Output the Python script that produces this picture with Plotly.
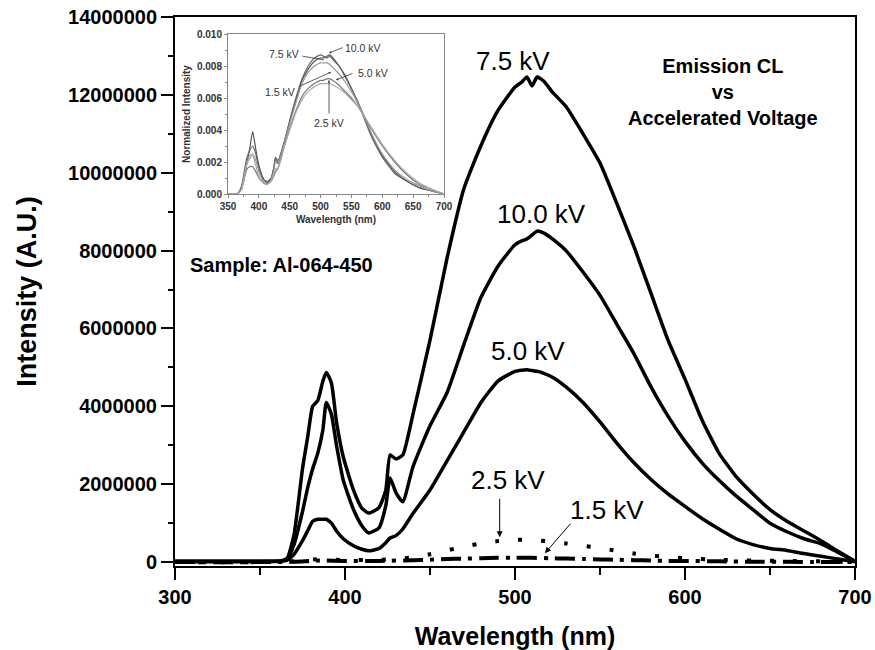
import plotly.graph_objects as go

# ---------------- main data (intensity, A.U.) ----------------
wl = [300, 350, 362, 366, 370, 375, 378, 381, 384, 387, 389, 392, 395, 399, 405, 410, 414, 420, 424, 426.5,
      430, 434, 440, 450, 460, 470, 480, 490, 500, 504, 507, 510, 513, 517, 522, 530, 540, 550, 560, 570,
      580, 590, 600, 610, 620, 630, 640, 650, 660, 670, 680, 690, 700]

kv75 = [0.02, 0.02, 0.03, 0.1, 0.7, 2.4, 3.2, 4.0, 4.15, 4.65, 4.87, 4.6, 3.6, 2.7, 1.85, 1.38, 1.26, 1.4, 1.85, 2.75,
        2.65, 2.75, 3.8, 5.7, 7.8, 9.6, 10.7, 11.6, 12.2, 12.33, 12.46, 12.23, 12.46, 12.35, 12.07, 11.7, 11.0, 10.25, 9.2, 8.1,
        6.9, 5.7, 4.7, 3.65, 2.8, 2.2, 1.75, 1.35, 1.05, 0.8, 0.55, 0.28, 0.02]

kv10 = [0.02, 0.02, 0.03, 0.08, 0.45, 1.3, 1.9, 2.4, 2.8, 3.4, 4.1, 3.8, 3.0, 2.1, 1.35, 0.93, 0.75, 0.88, 1.45, 2.16,
        1.78, 1.55, 2.45, 3.5, 4.35, 5.6, 6.8, 7.6, 8.15, 8.25, 8.3, 8.4, 8.5, 8.45, 8.3, 8.0, 7.45, 6.85, 6.1, 5.35,
        4.5, 3.75, 3.1, 2.55, 2.1, 1.7, 1.35, 1.0, 0.78, 0.6, 0.47, 0.25, 0.02]

kv50 = [0.01, 0.01, 0.02, 0.05, 0.2, 0.55, 0.8, 1.05, 1.1, 1.1, 1.1, 1.0, 0.8, 0.6, 0.42, 0.33, 0.29, 0.35, 0.5, 0.62,
        0.68, 0.85, 1.25, 1.85, 2.6, 3.35, 4.1, 4.65, 4.9, 4.93, 4.94, 4.92, 4.9, 4.85, 4.75, 4.5, 4.1, 3.6, 3.05, 2.55,
        2.12, 1.75, 1.43, 1.12, 0.85, 0.6, 0.45, 0.35, 0.3, 0.22, 0.15, 0.08, 0.01]

wl_low = [300, 350, 370, 385, 400, 420, 440, 450, 460, 470, 480, 490, 500, 510, 520, 530, 540, 550, 560, 570,
          580, 590, 600, 620, 640, 660, 680, 700]
kv25 = [0.0, 0.0, 0.02, 0.08, 0.05, 0.06, 0.12, 0.2, 0.3, 0.4, 0.48, 0.54, 0.57, 0.57, 0.53, 0.48, 0.42, 0.36, 0.29, 0.22,
        0.17, 0.13, 0.1, 0.06, 0.04, 0.03, 0.02, 0.0]
kv15 = [0.0, 0.0, 0.01, 0.04, 0.03, 0.03, 0.05, 0.06, 0.08, 0.09, 0.1, 0.11, 0.11, 0.11, 0.1, 0.09, 0.08, 0.07, 0.06, 0.05,
        0.04, 0.03, 0.03, 0.02, 0.01, 0.01, 0.0, 0.0]

# ---------------- inset data (normalized intensity) ----------------
wl_in = [350, 365, 372, 380, 385, 390, 395, 400, 407, 413, 420, 424, 427, 431, 440, 450, 460, 470, 480, 490,
         500, 505, 510, 515, 520, 530, 540, 550, 560, 570, 580, 590, 600, 620, 640, 660, 680, 700]
n10 = [0, 0, 0.0004, 0.0018, 0.0028, 0.0039, 0.0028, 0.0018, 0.0010, 0.0007, 0.0010, 0.0016, 0.0023, 0.0019, 0.0031, 0.0045, 0.0059, 0.0071, 0.0078, 0.0083,
       0.0085, 0.0085, 0.0086, 0.0087, 0.0085, 0.0080, 0.0074, 0.0066, 0.0058, 0.0049, 0.0039, 0.0031, 0.0024, 0.0014, 0.0008, 0.0004, 0.0002, 0]
n75 = [0, 0, 0.0005, 0.0022, 0.0027, 0.0030, 0.0025, 0.0016, 0.0009, 0.0008, 0.0010, 0.0016, 0.0022, 0.0021, 0.0031, 0.0046, 0.0060, 0.0072, 0.0080, 0.0085,
       0.0087, 0.0086, 0.0085, 0.0086, 0.0084, 0.0080, 0.0073, 0.0066, 0.0057, 0.0048, 0.0038, 0.0030, 0.0023, 0.0013, 0.0008, 0.0004, 0.0002, 0]
n15 = [0, 0, 0.0003, 0.0018, 0.0024, 0.0025, 0.0021, 0.0014, 0.0008, 0.0006, 0.0009, 0.0014, 0.0020, 0.0019, 0.0030, 0.0044, 0.0057, 0.0069, 0.0076, 0.0080,
       0.0082, 0.0082, 0.0082, 0.0081, 0.0079, 0.0075, 0.0070, 0.0064, 0.0057, 0.0049, 0.0040, 0.0032, 0.0025, 0.0015, 0.0009, 0.0005, 0.0002, 0]
n50 = [0, 0, 0.0003, 0.0015, 0.0017, 0.0017, 0.0014, 0.0010, 0.0007, 0.0006, 0.0008, 0.0011, 0.0014, 0.0016, 0.0028, 0.0041, 0.0052, 0.0061, 0.0066, 0.0069,
       0.0071, 0.0071, 0.0072, 0.0072, 0.0071, 0.0068, 0.0064, 0.0060, 0.0055, 0.0049, 0.0042, 0.0036, 0.0030, 0.0020, 0.0012, 0.0006, 0.0003, 0]
n25 = [0, 0, 0.0003, 0.0018, 0.0022, 0.0024, 0.0018, 0.0011, 0.0007, 0.0006, 0.0008, 0.0012, 0.0016, 0.0016, 0.0028, 0.0040, 0.0051, 0.0059, 0.0064, 0.0067,
       0.0069, 0.0069, 0.0069, 0.0069, 0.0068, 0.0066, 0.0063, 0.0059, 0.0055, 0.0049, 0.0043, 0.0037, 0.0031, 0.0021, 0.0013, 0.0007, 0.0003, 0]

M = 1e6
FONT = "Arial, Liberation Sans, Helvetica, sans-serif"

fig = go.Figure()

main_solid = [(kv75, "7.5 kV"), (kv10, "10.0 kV"), (kv50, "5.0 kV")]
for vals, name in main_solid:
    fig.add_trace(go.Scatter(x=wl, y=[v * M for v in vals], mode="lines", name=name,
                             line=dict(color="black", width=3.5, shape="spline", smoothing=0.5),
                             xaxis="x", yaxis="y"))
fig.add_trace(go.Scatter(x=wl_low, y=[v * M for v in kv25], mode="lines", name="2.5 kV",
                         line=dict(color="black", width=4, dash="4px,19px", shape="spline", smoothing=0.5),
                         xaxis="x", yaxis="y"))
fig.add_trace(go.Scatter(x=wl_low, y=[v * M for v in kv15], mode="lines", name="1.5 kV",
                         line=dict(color="black", width=4, dash="20px,7px,4px,7px", shape="spline", smoothing=0.5),
                         xaxis="x", yaxis="y"))

inset_series = [(n10, "#555555"), (n75, "#666666"), (n15, "#999999"), (n50, "#777777"), (n25, "#aaaaaa")]
for vals, col in inset_series:
    fig.add_trace(go.Scatter(x=wl_in, y=vals, mode="lines",
                             line=dict(color=col, width=1.2, shape="spline", smoothing=0.5),
                             xaxis="x2", yaxis="y2", showlegend=False))

# ---------- layout ----------
L, R, T, B = 175, 20, 17, 84
W, H = 875, 650
pw, ph = W - L - R, H - T - B

def px_x(px):
    return (px - L) / pw

def px_y(py):
    return (H - B - py) / ph

tick_font = dict(family=FONT, size=20, color="black", weight="bold")

fig.update_layout(
    width=W, height=H, margin=dict(l=L, r=R, t=T, b=B, autoexpand=False),
    paper_bgcolor="white", plot_bgcolor="white", showlegend=False,
    font=dict(family=FONT, color="black"),
    xaxis=dict(range=[300, 700], showline=True, linecolor="black", linewidth=2, mirror=True,
               ticks="outside", ticklen=12, tickwidth=2, tickcolor="black", dtick=100, tick0=300,
               minor=dict(ticks="outside", ticklen=7, tickwidth=2, tickcolor="black", dtick=50),
               showgrid=False, zeroline=False, tickfont=tick_font,
               title=dict(text="Wavelength (nm)", font=dict(family=FONT, size=25, weight="bold"), standoff=22)),
    yaxis=dict(range=[-0.1 * M, 14 * M], showline=True, linecolor="black", linewidth=2, mirror=True,
               ticks="outside", ticklen=12, tickwidth=2, tickcolor="black", dtick=2 * M, tick0=0,
               tickformat="d",
               minor=dict(ticks="outside", ticklen=5, tickwidth=2, tickcolor="black", dtick=M),
               showgrid=False, zeroline=False, tickfont=tick_font,
               title=dict(text="Intensity (A.U.)", font=dict(family=FONT, size=27, weight="bold"), standoff=24)),
    xaxis2=dict(domain=[px_x(228), px_x(444)], anchor="y2", range=[350, 700], dtick=50, tick0=350,
                showline=True, linecolor="#888888", linewidth=1, mirror=True,
                ticks="outside", ticklen=3, tickcolor="#888888",
                minor=dict(ticks="outside", ticklen=2, tickcolor="#888888", dtick=25),
                showgrid=False, zeroline=False,
                tickfont=dict(family=FONT, size=10, color="#333333", weight="bold"),
                title=dict(text="Wavelength (nm)", font=dict(family=FONT, size=10, color="#333333", weight="bold"), standoff=4)),
    yaxis2=dict(domain=[px_y(194), px_y(34)], anchor="x2", range=[0, 0.010], dtick=0.002, tick0=0,
                tickformat=".3f",
                showline=True, linecolor="#888888", linewidth=1, mirror=True,
                ticks="outside", ticklen=3, tickcolor="#888888",
                minor=dict(ticks="outside", ticklen=2, tickcolor="#888888", dtick=0.001),
                showgrid=False, zeroline=False,
                tickfont=dict(family=FONT, size=10, color="#333333", weight="bold"),
                title=dict(text="Normalized Intensity", font=dict(family=FONT, size=10, color="#333333", weight="bold"), standoff=4)),
)

# ---------- main annotations ----------
lab_font = dict(family=FONT, size=26, color="black")
labels = [("7.5 kV", 499, 12.87), ("10.0 kV", 515.3, 8.93), ("5.0 kV", 507.6, 5.41),
          ("2.5 kV", 495.9, 2.11), ("1.5 kV", 554, 1.34)]
for txt, xv, yv in labels:
    fig.add_annotation(x=xv, y=yv * M, xref="x", yref="y", text=txt, showarrow=False,
                       font=lab_font, xanchor="center", yanchor="middle")

# arrows
fig.add_annotation(x=491, y=0.64 * M, xref="x", yref="y", text="", showarrow=True,
                   ax=0, ay=-40, arrowhead=2, arrowsize=1.2, arrowwidth=1, arrowcolor="black")
fig.add_annotation(x=517.6, y=0.23 * M, xref="x", yref="y", text="", showarrow=True,
                   ax=27, ay=-31, arrowhead=2, arrowsize=1.2, arrowwidth=1, arrowcolor="black")

fig.add_annotation(x=622.4, y=12.07 * M, xref="x", yref="y",
                   text="<b>Emission CL</b><br><b>vs</b><br><b>Accelerated Voltage</b>",
                   showarrow=False, font=dict(family=FONT, size=20, color="black"),
                   xanchor="center", yanchor="middle", align="center")
fig.add_annotation(x=307.6, y=7.64 * M, xref="x", yref="y", text="<b>Sample: Al-064-450</b>",
                   showarrow=False, font=dict(family=FONT, size=20, color="black"),
                   xanchor="left", yanchor="middle")

# ---------- inset annotations ----------
in_font = dict(family=FONT, size=10.5, color="#333333")
inset_labels = [
    ("7.5 kV", 440, 0.00875, 505.5, 0.00838, -23, -4, 0),
    ("10.0 kV", 569, 0.009125, 513.7, 0.00881, 15, -6, 2),
    ("5.0 kV", 585.7, 0.00756, 525, 0.00713, 18, -7, 2),
    ("1.5 kV", 435, 0.006375, 517, 0.007625, -33, 15, 2),
    ("2.5 kV", 513.7, 0.00444, 513.7, 0.007125, 0, 35, 2),
]
for txt, tx, ty, hx, hy, ax, ay, head in inset_labels:
    fig.add_annotation(x=tx, y=ty, xref="x2", yref="y2", text=txt, showarrow=False,
                       font=in_font, xanchor="center", yanchor="middle")
    fig.add_annotation(x=hx, y=hy, xref="x2", yref="y2", text="", showarrow=True,
                       ax=ax, ay=ay, arrowhead=head, arrowsize=0.6, arrowwidth=0.8, arrowcolor="#333333")

fig.write_html("out.html", config={"displayModeBar": False},
               post_script="document.body.style.margin='0px';document.body.style.overflow='hidden';")
